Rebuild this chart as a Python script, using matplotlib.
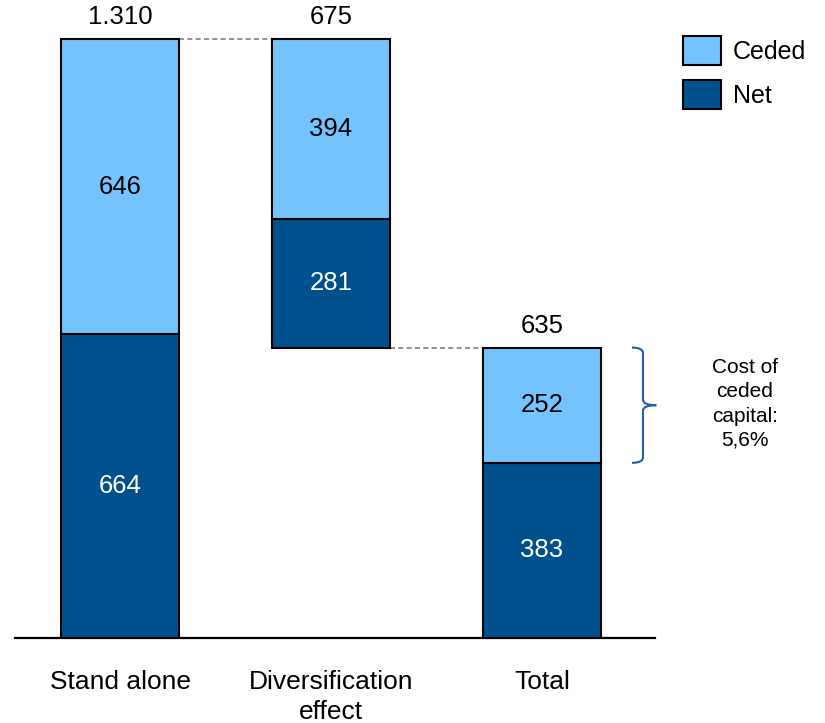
import matplotlib
matplotlib.use("Agg")
import matplotlib.pyplot as plt
from matplotlib.patches import Patch
from matplotlib.path import Path
from matplotlib.patches import PathPatch

plt.rcParams['font.family'] = ['Liberation Sans', 'DejaVu Sans']

categories = ["Stand alone", "Diversification\neffect", "Total"]
net = [664, 281, 383]
ceded = [646, 394, 252]
base = [0, 635, 0]
totals = ["1.310", "675", "635"]
note = "Cost of\nceded\ncapital:\n5,6%"

light = "#74C3FC"
dark = "#00508D"

W, H = 825, 723
fig = plt.figure(figsize=(W / 100, H / 100), dpi=100)
ax = fig.add_axes([15 / W, (H - 638) / H, 640 / W, 638 / H])

x = [0, 1, 2]
bw = 0.56
ax.bar(x, net, bw, bottom=base, color=dark, edgecolor="black", linewidth=1.5, zorder=3)
tops_net = [b + n for b, n in zip(base, net)]
ax.bar(x, ceded, bw, bottom=tops_net, color=light, edgecolor="black", linewidth=1.5, zorder=3)

ax.set_xlim(-0.498, 2.536)
ax.set_ylim(0, 1395)

for xi, b, n, c, t in zip(x, base, net, ceded, totals):
    ax.text(xi, b + n / 2, str(n), ha="center", va="center", color="white", fontsize=18.5, zorder=4)
    ax.text(xi, b + n + c / 2, str(c), ha="center", va="center", color="black", fontsize=18.5, zorder=4)
    ax.annotate(t, (xi, b + n + c), xytext=(0, 7), textcoords="offset points",
                ha="center", va="bottom", fontsize=18.5)

# connectors between consecutive bars
top1 = base[0] + net[0] + ceded[0]
ax.plot([x[0] + bw / 2, x[1] - bw / 2], [top1, top1], ls=(0, (3, 2)), color="#808080", lw=1.2, zorder=2)
ax.plot([x[1] + bw / 2, x[2] - bw / 2], [base[1], base[1]], ls=(0, (3, 2)), color="#808080", lw=1.2, zorder=2)

# baseline
for s in ["top", "right", "left"]:
    ax.spines[s].set_visible(False)
ax.spines["bottom"].set_linewidth(1.6)
ax.set_yticks([])
ax.set_xticks(x)
ax.set_xticklabels(categories, fontsize=19, linespacing=1.32, va="top")
ax.tick_params(axis="x", length=0, pad=23)

# brace next to the ceded part of the total bar
y0, y1 = net[2], net[2] + ceded[2]
ym = (y0 + y1) / 2
bx = 2.427
d = 0.052
tip = 0.115
r = 12
verts = [
    (bx, y1), (bx + d, y1), (bx + d, y1 - r),
    (bx + d, ym + r), (bx + d, ym), (bx + tip, ym),
    (bx + d, ym), (bx + d, ym - r),
    (bx + d, y0 + r), (bx + d, y0), (bx, y0),
]
codes = [Path.MOVETO, Path.CURVE3, Path.CURVE3,
         Path.LINETO, Path.CURVE3, Path.CURVE3,
         Path.CURVE3, Path.CURVE3,
         Path.LINETO, Path.CURVE3, Path.CURVE3]
ax.add_patch(PathPatch(Path(verts, codes), fill=False, edgecolor="#1F5FA8", lw=1.5, clip_on=False))
ax.text(2.962, ym + 3, note, ha="center", va="center", fontsize=15, linespacing=1.36, clip_on=False)

handles = [Patch(facecolor=light, edgecolor="black", lw=1.5, label="Ceded"),
           Patch(facecolor=dark, edgecolor="black", lw=1.5, label="Net")]
fig.legend(handles=handles, loc="upper left", bbox_to_anchor=(683 / W, 1 - 36 / H),
           frameon=False, fontsize=18, borderpad=0, borderaxespad=0,
           handlelength=1.5, handleheight=1.4, labelspacing=0.62, handletextpad=0.5)

fig.savefig("out.png", dpi=100)
